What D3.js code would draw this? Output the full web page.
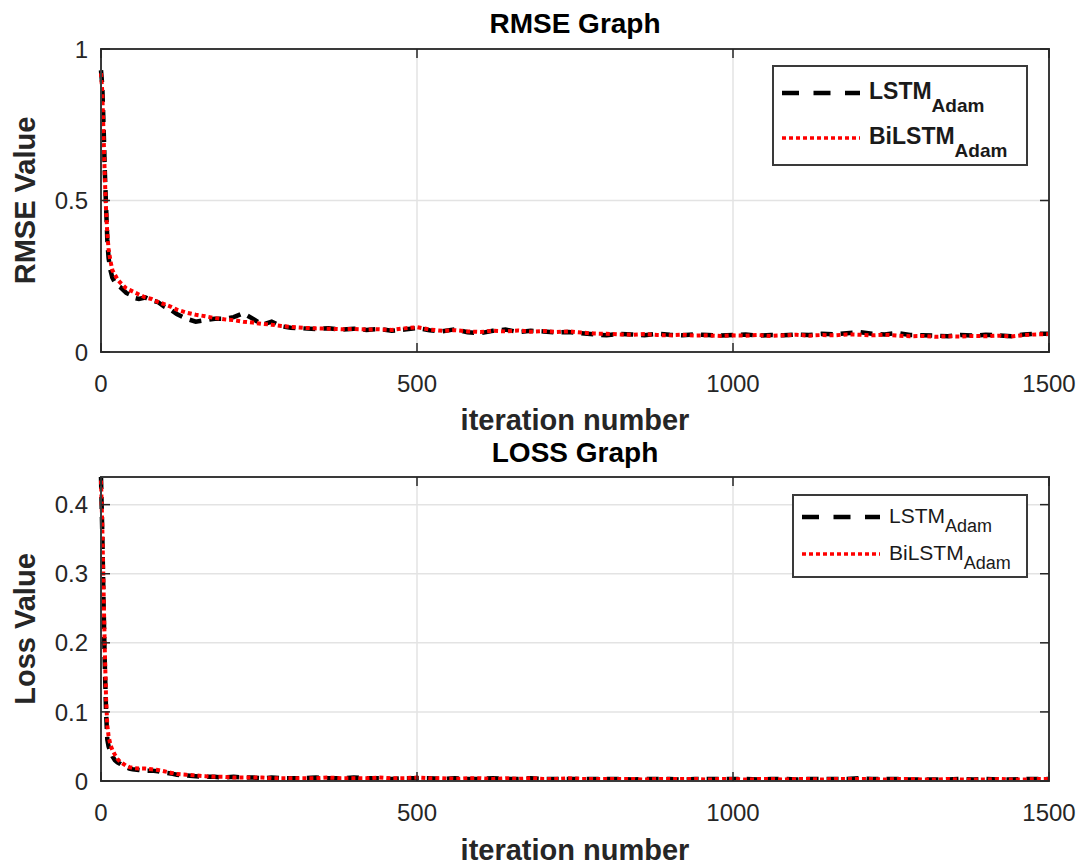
<!DOCTYPE html>
<html>
<head>
<meta charset="utf-8">
<script src="https://cdn.jsdelivr.net/npm/d3@7"></script>
<style>
 body { margin:0; background:#fff; }
 svg { font-family: "Liberation Sans", Arial, sans-serif; }
</style>
</head>
<body>
<div id="chart"></div>
<script>
// iteration numbers shared by all four series
const iters = [0,2,4,6,8,10,12,15,18,22,26,30,35,40,45,50,60,70,80,90,100,110,120,
 135,150,165,180,195,210,225,240,255,270,285,300,
 320,340,360,380,400,420,440,460,480,500,520,540,560,580,600,620,640,660,680,700,
 720,740,760,780,800,820,840,860,880,900,920,940,960,980,1000,1020,1040,1060,1080,1100,
 1120,1140,1160,1180,1200,1220,1240,1260,1280,1300,1320,1340,1360,1380,1400,1420,1440,1460,1480,1500];

const rmseLstm = [0.93,0.88,0.75,0.60,0.48,0.37,0.31,0.27,0.245,0.23,0.22,0.215,0.205,0.195,0.19,0.18,0.175,0.18,0.17,0.165,0.15,0.14,0.125,
 0.11,0.10,0.105,0.11,0.11,0.115,0.128,0.11,0.09,0.10,0.085,0.08,
 0.078,0.076,0.078,0.074,0.077,0.073,0.076,0.070,0.074,0.079,0.072,0.068,0.075,0.065,0.062,0.070,0.074,0.066,0.070,0.068,
 0.064,0.066,0.062,0.058,0.055,0.060,0.058,0.055,0.060,0.057,0.055,0.058,0.056,0.054,0.056,0.058,0.054,0.056,0.055,0.058,
 0.056,0.060,0.058,0.062,0.066,0.060,0.058,0.063,0.056,0.055,0.054,0.052,0.056,0.054,0.057,0.055,0.052,0.058,0.060,0.060];

const rmseBilstm = [0.92,0.86,0.72,0.58,0.47,0.39,0.34,0.30,0.27,0.255,0.24,0.23,0.22,0.21,0.205,0.20,0.19,0.18,0.175,0.165,0.158,0.15,0.14,
 0.13,0.123,0.118,0.112,0.108,0.105,0.10,0.097,0.093,0.09,0.086,0.083,
 0.080,0.078,0.077,0.075,0.076,0.074,0.075,0.073,0.078,0.082,0.074,0.070,0.072,0.068,0.066,0.070,0.068,0.071,0.067,0.069,
 0.066,0.068,0.064,0.061,0.060,0.058,0.057,0.059,0.056,0.055,0.057,0.054,0.055,0.053,0.055,0.054,0.056,0.053,0.055,0.057,
 0.054,0.056,0.055,0.058,0.057,0.055,0.057,0.054,0.052,0.053,0.050,0.052,0.051,0.053,0.052,0.054,0.051,0.056,0.058,0.059];

const lossLstm = [0.44,0.36,0.26,0.17,0.10,0.06,0.05,0.042,0.036,0.030,0.027,0.025,0.022,0.020,0.018,0.017,0.016,0.015,0.015,0.014,0.012,0.011,0.009,
 0.008,0.007,0.006,0.006,0.005,0.006,0.005,0.005,0.004,0.005,0.004,0.004,
 0.004,0.005,0.004,0.004,0.005,0.004,0.004,0.003,0.004,0.004,0.004,0.003,0.004,0.003,0.003,0.004,0.003,0.003,0.004,0.003,
 0.003,0.003,0.003,0.003,0.003,0.003,0.002,0.003,0.003,0.003,0.002,0.003,0.003,0.003,0.003,0.003,0.002,0.003,0.003,0.002,
 0.003,0.003,0.003,0.003,0.004,0.003,0.003,0.003,0.002,0.002,0.002,0.002,0.003,0.002,0.003,0.002,0.002,0.003,0.003,0.003];

const lossBilstm = [0.435,0.37,0.28,0.19,0.12,0.08,0.065,0.052,0.045,0.038,0.032,0.028,0.025,0.022,0.020,0.019,0.018,0.018,0.017,0.016,0.014,0.012,0.010,
 0.009,0.008,0.007,0.006,0.006,0.005,0.005,0.005,0.005,0.004,0.004,0.004,
 0.004,0.004,0.005,0.004,0.004,0.004,0.005,0.004,0.004,0.005,0.004,0.004,0.003,0.004,0.004,0.003,0.004,0.003,0.004,0.003,
 0.003,0.004,0.003,0.003,0.003,0.003,0.003,0.002,0.003,0.003,0.003,0.003,0.002,0.003,0.003,0.002,0.003,0.003,0.002,0.003,
 0.003,0.002,0.003,0.003,0.003,0.003,0.002,0.003,0.003,0.002,0.002,0.003,0.002,0.002,0.002,0.003,0.002,0.002,0.003,0.003];

const xTicks = [0,500,1000,1500];
const rmseTicks = [0,0.5,1];
const lossTicks = [0,0.1,0.2,0.3,0.4];
const seriesNames = ['LSTM','BiLSTM'];
const subName = 'Adam';

const width = 1078, height = 865;
const axisColor = '#262626';
const gridColor = '#e3e3e3';

const svg = d3.select('#chart').append('svg')
    .attr('width', width)
    .attr('height', height);

function drawPanel(opt){
 const xScale = d3.scaleLinear().domain([0,1500]).range([opt.left, opt.right]);
 const yScale = d3.scaleLinear().domain(opt.yDomain).range([opt.bottom, opt.top]);

 const g = svg.append('g');

 // grid lines (inside the box, skipping the edges)
 g.append('g')
     .selectAll('line')
     .data(xTicks.filter(d=>d>0 && d<1500))
     .join('line')
     .attr('x1', d=>xScale(d)).attr('x2', d=>xScale(d))
     .attr('y1', opt.top).attr('y2', opt.bottom)
     .attr('stroke', gridColor).attr('stroke-width', 1.5);

 g.append('g')
     .selectAll('line')
     .data(opt.yTicks.filter(d=>d>opt.yDomain[0] && d<opt.yDomain[1]))
     .join('line')
     .attr('x1', opt.left).attr('x2', opt.right)
     .attr('y1', d=>yScale(d)).attr('y2', d=>yScale(d))
     .attr('stroke', gridColor).attr('stroke-width', 1.5);

 // the two curves
 const line = d3.line()
     .x((d,i)=>xScale(iters[i]))
     .y(d=>yScale(d));

 g.append('path')
     .datum(opt.black)
     .attr('fill','none')
     .attr('stroke','#000')
     .attr('stroke-width',4.5)
     .style('stroke-dasharray','12,8')
     .attr('d', line);

 g.append('path')
     .datum(opt.red)
     .attr('fill','none')
     .attr('stroke','#ff0000')
     .attr('stroke-width',4)
     .style('stroke-dasharray','4,3')
     .attr('d', line);

 // box
 g.append('rect')
     .attr('x', opt.left).attr('y', opt.top)
     .attr('width', opt.right-opt.left).attr('height', opt.bottom-opt.top)
     .attr('fill','none')
     .attr('stroke', '#3a3a3a')
     .attr('stroke-width', 2);

 // inward ticks on all four sides
 const tickLen = 9;
 const ticks = g.append('g').attr('stroke', axisColor).attr('stroke-width', 1.5);
 xTicks.forEach(t=>{
  ticks.append('line').attr('x1',xScale(t)).attr('x2',xScale(t)).attr('y1',opt.bottom).attr('y2',opt.bottom-tickLen);
  ticks.append('line').attr('x1',xScale(t)).attr('x2',xScale(t)).attr('y1',opt.top).attr('y2',opt.top+tickLen);
 });
 opt.yTicks.forEach(t=>{
  ticks.append('line').attr('x1',opt.left).attr('x2',opt.left+tickLen).attr('y1',yScale(t)).attr('y2',yScale(t));
  ticks.append('line').attr('x1',opt.right).attr('x2',opt.right-tickLen).attr('y1',yScale(t)).attr('y2',yScale(t));
 });

 // tick labels
 g.append('g')
     .selectAll('text')
     .data(xTicks)
     .join('text')
     .attr('x', d=>xScale(d))
     .attr('y', opt.bottom+40)
     .attr('text-anchor','middle')
     .attr('fill', axisColor)
     .style('font-size','24px')
     .text(d=>d);

 g.append('g')
     .selectAll('text')
     .data(opt.yTicks)
     .join('text')
     .attr('x', opt.left-13)
     .attr('y', d=>yScale(d))
     .attr('dy','0.36em')
     .attr('text-anchor','end')
     .attr('fill', axisColor)
     .style('font-size','24px')
     .text(d=>d);

 // title and axis labels
 g.append('text')
     .attr('x', (opt.left+opt.right)/2)
     .attr('y', opt.titleY)
     .attr('text-anchor','middle')
     .attr('fill','#000')
     .style('font-size','28px')
     .style('font-weight','bold')
     .text(opt.title);

 g.append('text')
     .attr('x', (opt.left+opt.right)/2)
     .attr('y', opt.xLabelY)
     .attr('text-anchor','middle')
     .attr('fill', axisColor)
     .style('font-size','29px')
     .style('font-weight','bold')
     .text('iteration number');

 g.append('text')
     .attr('transform', `translate(35,${(opt.top+opt.bottom)/2}) rotate(-90)`)
     .attr('text-anchor','middle')
     .attr('fill', axisColor)
     .style('font-size','29px')
     .style('font-weight','bold')
     .text(opt.yLabel);

 // legend
 const lg = opt.legend;
 const leg = svg.append('g');
 leg.append('rect')
     .attr('x', lg.x).attr('y', lg.y)
     .attr('width', lg.w).attr('height', lg.h)
     .attr('fill','#fff')
     .attr('stroke','#3a3a3a')
     .attr('stroke-width',2);

 const styles = [
  {stroke:'#000', dash:'17,14.5', w:4.5},
  {stroke:'#ff0000', dash:'4,3', w:3.5}
 ];
 seriesNames.forEach((name,i)=>{
  const ly = lg.rows[i];
  leg.append('line')
      .attr('x1', lg.lineX).attr('x2', lg.lineX+78)
      .attr('y1', ly).attr('y2', ly)
      .attr('stroke', styles[i].stroke)
      .attr('stroke-width', styles[i].w)
      .style('stroke-dasharray', styles[i].dash);
  const t = leg.append('text')
      .attr('x', lg.textX)
      .attr('y', ly+lg.baseOff)
      .attr('fill','#1a1a1a')
      .style('font-size', lg.size+'px')
      .style('font-weight', lg.weight);
  t.append('tspan').text(name);
  t.append('tspan')
      .attr('dy', lg.subDy)
      .style('font-size', lg.subSize+'px')
      .text(subName);
 });
}

drawPanel({
 left:101, right:1049, top:49, bottom:352,
 yDomain:[0,1], yTicks:rmseTicks,
 black:rmseLstm, red:rmseBilstm,
 title:'RMSE Graph', titleY:33, xLabelY:430, yLabel:'RMSE Value',
 legend:{x:773, y:66, w:254, h:99, lineX:782, textX:869, rows:[93,138],
  baseOff:6, size:23, subSize:19, subDy:13, weight:'bold'}
});

drawPanel({
 left:101, right:1049, top:477, bottom:781,
 yDomain:[0,0.44], yTicks:lossTicks,
 black:lossLstm, red:lossBilstm,
 title:'LOSS Graph', titleY:462, xLabelY:860, yLabel:'Loss Value',
 legend:{x:793, y:495, w:234, h:82, lineX:802, textX:889, rows:[517,554],
  baseOff:6, size:21, subSize:18, subDy:9, weight:'normal'}
});
</script>
</body>
</html>
